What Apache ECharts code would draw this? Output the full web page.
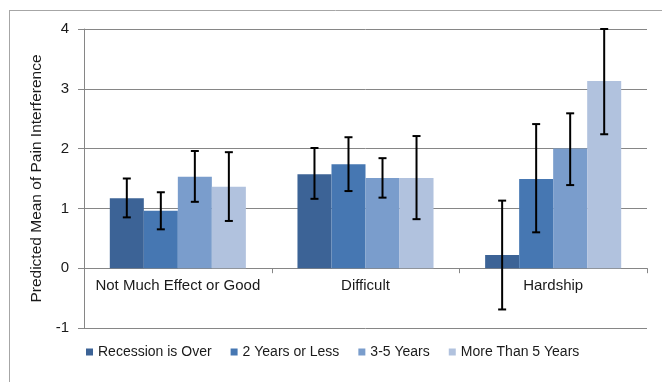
<!DOCTYPE html>
<html>
<head>
<meta charset="utf-8">
<script src="https://cdn.jsdelivr.net/npm/echarts@6/dist/echarts.min.js"></script>
<style>html,body{margin:0;padding:0;background:#fff;}#c{width:662px;height:382px;}</style>
</head>
<body>
<div id="c"></div>
<script>
const categories = ['Not Much Effect or Good', 'Difficult', 'Hardship'];
const seriesNames = ['Recession is Over', '2 Years or Less', '3-5 Years', 'More Than 5 Years'];
const yTicks = [-1, 0, 1, 2, 3, 4];

const recessionOver = [1.17, 1.57, 0.22];
const twoYearsOrLess = [0.96, 1.74, 1.49];
const threeToFive = [1.53, 1.51, 2.00];
const moreThanFive = [1.36, 1.51, 3.13];

const recessionOverLow = [0.85, 1.16, -0.69];
const recessionOverHigh = [1.50, 2.01, 1.13];
const twoYearsOrLessLow = [0.65, 1.29, 0.60];
const twoYearsOrLessHigh = [1.27, 2.19, 2.41];
const threeToFiveLow = [1.11, 1.18, 1.39];
const threeToFiveHigh = [1.96, 1.84, 2.59];
const moreThanFiveLow = [0.79, 0.82, 2.24];
const moreThanFiveHigh = [1.94, 2.21, 4.00];

const values = [recessionOver, twoYearsOrLess, threeToFive, moreThanFive];
const lows = [recessionOverLow, twoYearsOrLessLow, threeToFiveLow, moreThanFiveLow];
const highs = [recessionOverHigh, twoYearsOrLessHigh, threeToFiveHigh, moreThanFiveHigh];
const colors = ['#3c6396', '#4677b2', '#7a9dcc', '#b1c2de'];

const GAP = 0.275;
const errData = [];
for (let s = 0; s < 4; s++) {
  for (let c = 0; c < categories.length; c++) {
    errData.push([c, s, lows[s][c], highs[s][c]]);
  }
}
const tickData = [0, 1, 2];

const textColor = '#1a1a1a';
const lineColor = '#868686';

const series = seriesNames.map((name, i) => ({
  name: name,
  type: 'bar',
  data: values[i],
  barGap: '0%',
  barCategoryGap: (GAP * 100) + '%',
  itemStyle: { color: colors[i] },
  emphasis: { disabled: true }
}));

series.push({
  type: 'custom',
  name: 'err',
  z: 10,
  data: errData,
  encode: { x: 0, y: 2 },
  renderItem: function (params, api) {
    const cat = api.value(0), s = api.value(1), lo = api.value(2), hi = api.value(3);
    const band = api.size([1, 0])[0];
    const bw = band * (1 - GAP) / 4;
    const x = api.coord([cat, 0])[0] + (s - 1.5) * bw;
    const yHi = api.coord([cat, hi])[1];
    const yLo = api.coord([cat, lo])[1];
    const h = 4;
    const st = { stroke: '#000', lineWidth: 2 };
    return {
      type: 'group',
      children: [
        { type: 'line', shape: { x1: x, y1: yHi, x2: x, y2: yLo }, style: st },
        { type: 'line', shape: { x1: x - h, y1: yHi, x2: x + h, y2: yHi }, style: st },
        { type: 'line', shape: { x1: x - h, y1: yLo, x2: x + h, y2: yLo }, style: st }
      ]
    };
  }
});

// category-boundary tick marks on the zero line
series.push({
  type: 'custom',
  name: 'ticks',
  z: 11,
  data: tickData,
  encode: { x: 0 },
  renderItem: function (params, api) {
    const c = api.value(0);
    const band = api.size([1, 0])[0];
    const p = api.coord([c, 0]);
    const x = Math.round(p[0] + band / 2) + 0.5;
    return { type: 'line', shape: { x1: x, y1: p[1], x2: x, y2: p[1] + 5 }, style: { stroke: lineColor, lineWidth: 1 } };
  }
});

const chart = echarts.init(document.getElementById('c'), null, { renderer: 'canvas' });
chart.setOption({
  animation: false,
  backgroundColor: '#fff',
  textStyle: { fontFamily: 'Liberation Sans, Arial, sans-serif' },
  grid: { left: 84, right: 15, top: 29, bottom: 54, containLabel: false },
  legend: {
    data: seriesNames,
    left: 81,
    top: 340,
    itemWidth: 7,
    itemHeight: 7,
    itemGap: 19,
    icon: 'rect',
    textStyle: { fontSize: 14, color: textColor, fontFamily: 'Liberation Sans, Arial, sans-serif' }
  },
  xAxis: {
    type: 'category',
    data: categories,
    axisLine: { onZero: true, lineStyle: { color: lineColor, width: 1 } },
    axisTick: { show: false },
    axisLabel: { fontSize: 15, color: textColor, margin: -50, interval: 0 },
    splitLine: { show: false }
  },
  yAxis: {
    type: 'value',
    min: yTicks[0],
    max: yTicks[yTicks.length - 1],
    interval: 1,
    name: 'Predicted Mean of Pain Interference',
    nameLocation: 'middle',
    nameRotate: 90,
    nameGap: 39,
    nameTextStyle: { fontSize: 15.5, color: textColor },
    axisLine: { show: true, lineStyle: { color: lineColor, width: 1 } },
    axisTick: { show: true, length: 6, lineStyle: { color: lineColor } },
    axisLabel: { fontSize: 15, color: textColor, margin: 15 },
    splitLine: { show: true, lineStyle: { color: lineColor, width: 1 } }
  },
  graphic: [
    { type: 'line', shape: { x1: 9, y1: 10.5, x2: 662, y2: 10.5 }, style: { stroke: '#a6a6a6', lineWidth: 1 } },
    { type: 'line', shape: { x1: 9.5, y1: 10, x2: 9.5, y2: 382 }, style: { stroke: '#a6a6a6', lineWidth: 1 } }
  ],
  series: series
});
</script>
</body>
</html>
